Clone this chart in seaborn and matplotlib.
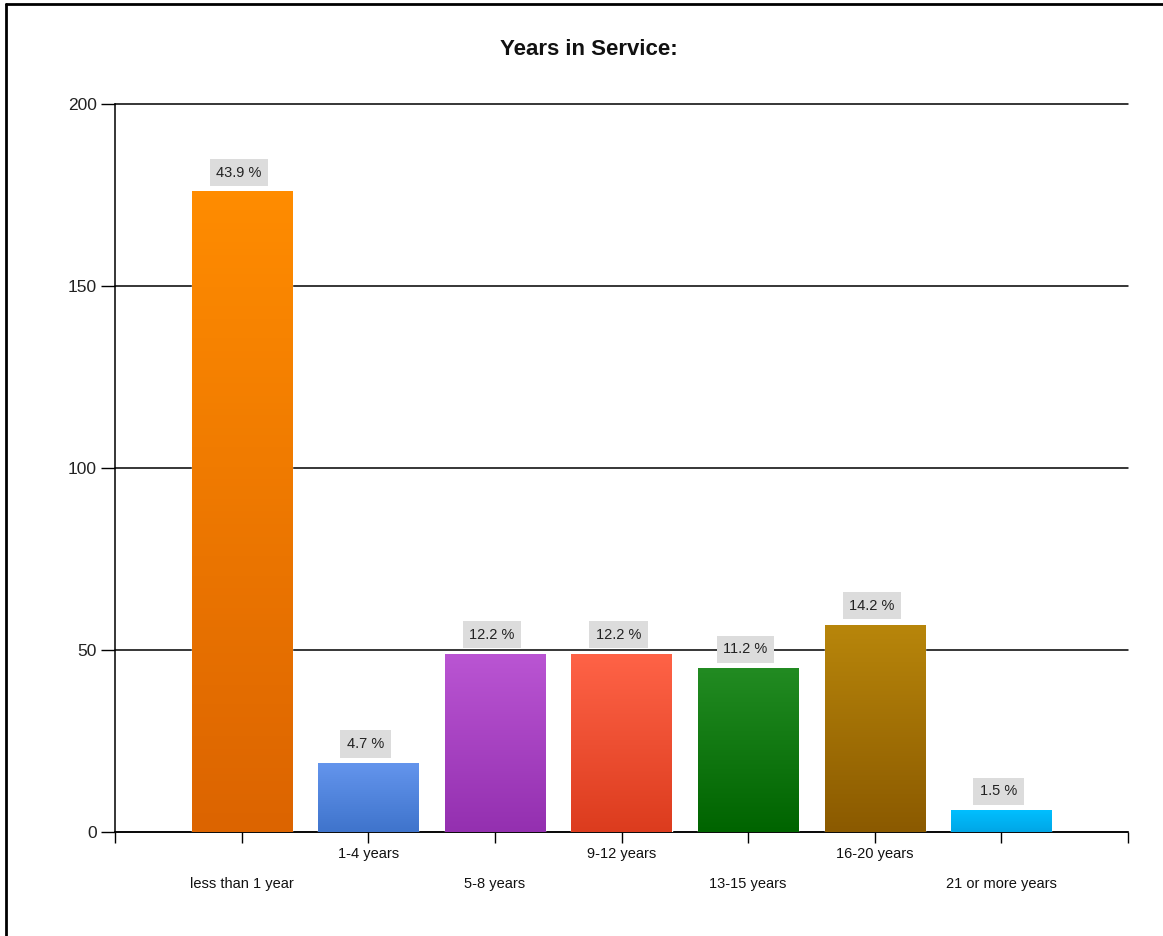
import numpy as np
import pandas as pd
import seaborn as sns
import matplotlib.pyplot as plt
from matplotlib.lines import Line2D

categories = ['less than 1 year', '1-4 years', '5-8 years', '9-12 years',
              '13-15 years', '16-20 years', '21 or more years']
counts = [176, 19, 49, 49, 45, 57, 6]
percents = [43.9, 4.7, 12.2, 12.2, 11.2, 14.2, 1.5]
# top / bottom colours of each bar's gradient
top_colors = ['#FF8C00', '#6495ED', '#BA55D3', '#FF6347', '#228B22', '#B8860B', '#00BFFF']
bottom_colors = ['#DC6400', '#3F74CC', '#9430B0', '#DC3C1E', '#006400', '#8B5A00', '#00A6E6']

df = pd.DataFrame({'category': categories, 'count': counts})

sns.set_style('white')
plt.rcParams['font.family'] = ['Liberation Sans', 'DejaVu Sans']

fig = plt.figure(figsize=(11.63, 9.36), dpi=100)
ax = fig.add_axes([0.0989, 0.1111, 0.8710, 0.7778])

sns.barplot(data=df, x='category', y='count', hue='category', palette=top_colors,
            legend=False, width=0.79, ax=ax, zorder=3, saturation=1)

# gradient fill clipped to each bar
for patch, c1, c2 in zip(ax.patches, top_colors, bottom_colors):
    x0, y0 = patch.get_x(), patch.get_y()
    w, h = patch.get_width(), patch.get_height()
    a = np.array(plt.matplotlib.colors.to_rgb(c1))
    b = np.array(plt.matplotlib.colors.to_rgb(c2))
    t = np.linspace(0, 1, 100)[:, None]
    grad = (a * (1 - t) + b * t)[:, None, :]
    im = ax.imshow(grad, extent=[x0, x0 + w, y0, y0 + h], aspect='auto',
                   origin='upper', zorder=4)
    im.set_clip_path(patch)

for i, (v, p) in enumerate(zip(counts, percents)):
    ax.annotate(f'{p} %', (i, v), xytext=(-2, 8.5), textcoords='offset points',
                ha='center', va='bottom', fontsize=10.5, color='#222222', zorder=6,
                bbox=dict(boxstyle='square,pad=0.45', fc='#DCDCDC', ec='none'))

ax.set_xlim(-1, 7)
ax.set_ylim(0, 200)
ax.set_yticks([0, 50, 100, 150, 200])
ax.set_xticks(range(-1, 8))
ax.set_xticklabels([''] * 9)
for i, lab in enumerate(categories):
    off = -0.071 if i % 2 == 0 else -0.030
    ax.text(i, off, lab, transform=ax.get_xaxis_transform(), ha='center', va='center',
            fontsize=10.5, color='#111111')

ax.grid(axis='y', color='black', linewidth=1.1, zorder=0)
for gl in ax.get_ygridlines():
    gl.set_clip_on(False)
ax.set_axisbelow(True)
ax.tick_params(axis='y', length=10, width=1, color='black', labelsize=12.5, pad=3,
               labelcolor='#222222')
ax.tick_params(axis='x', length=8, width=1, color='black', direction='out')
ax.tick_params(axis='both', which='both', left=True, bottom=True)
for s in ['top', 'right']:
    ax.spines[s].set_visible(False)
for s in ['left', 'bottom']:
    ax.spines[s].set_color('black')
    ax.spines[s].set_linewidth(1.1)
ax.set_xlabel('')
ax.set_ylabel('')

fig.text(0.506, 0.947, 'Years in Service:', ha='center', va='center',
         fontsize=16, fontweight='bold', color='#111111')

# outer frame (left and top edges visible)
fig.add_artist(Line2D([0.0055, 0.0055], [0, 0.996], color='black', lw=2,
                      transform=fig.transFigure))
fig.add_artist(Line2D([0.0055, 1], [0.996, 0.996], color='black', lw=2,
                      transform=fig.transFigure))

fig.savefig('out.png', dpi=100)
